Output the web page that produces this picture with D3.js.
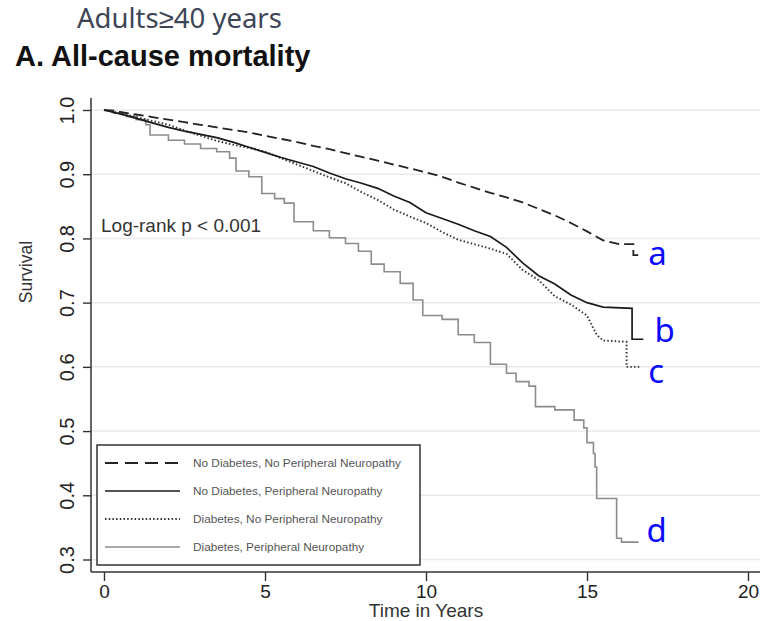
<!DOCTYPE html>
<html>
<head>
<meta charset="utf-8">
<script src="https://cdn.jsdelivr.net/npm/d3@7"></script>
<style>
  body { margin: 0; background: #fff; }
  text { font-family: "Liberation Sans", Arial, sans-serif; }
</style>
</head>
<body>
<div id="chart"></div>
<script>
// series: [time in years, survival]
const noDiabNoPN = [
  [0, 1.0], [0.5, 0.997], [1, 0.993], [1.5, 0.989], [2, 0.985], [2.5, 0.981], [3, 0.977],
  [3.5, 0.973], [4, 0.969], [4.5, 0.965], [5, 0.960], [5.5, 0.955], [6, 0.950], [6.5, 0.944],
  [7, 0.939], [7.5, 0.933], [8, 0.927], [8.5, 0.921], [9, 0.915], [9.5, 0.909], [10, 0.903],
  [10.5, 0.896], [11, 0.887], [11.5, 0.879], [12, 0.871], [12.5, 0.864], [13, 0.856],
  [13.5, 0.846], [14, 0.836], [14.5, 0.824], [15, 0.811], [15.5, 0.797], [16, 0.791],
  [16.44, 0.791], [16.44, 0.774], [16.6, 0.774]
];
const noDiabPN = [
  [0, 1.0], [0.5, 0.994], [1, 0.987], [1.5, 0.980], [2, 0.973], [2.5, 0.967], [3, 0.962],
  [3.5, 0.957], [4, 0.950], [4.5, 0.942], [5, 0.934], [5.5, 0.926], [6, 0.919], [6.5, 0.912],
  [7, 0.902], [7.5, 0.893], [8, 0.886], [8.5, 0.878], [9, 0.866], [9.5, 0.856], [10, 0.840],
  [10.5, 0.831], [11, 0.822], [11.5, 0.812], [12, 0.803], [12.5, 0.786], [13, 0.762],
  [13.5, 0.742], [14, 0.729], [14.5, 0.712], [15, 0.700], [15.5, 0.693], [16.4, 0.691],
  [16.4, 0.643], [16.75, 0.643]
];
const diabNoPN = [
  [0, 1.0], [0.5, 0.995], [1, 0.989], [1.5, 0.983], [2, 0.977], [2.5, 0.968], [3, 0.960],
  [3.5, 0.952], [4, 0.946], [4.5, 0.941], [5, 0.935], [5.5, 0.925], [6, 0.915], [6.5, 0.905],
  [7, 0.895], [7.5, 0.886], [8, 0.872], [8.5, 0.860], [9, 0.845], [9.5, 0.834], [10, 0.824],
  [10.5, 0.810], [11, 0.798], [11.5, 0.791], [12, 0.784], [12.5, 0.776], [13, 0.751],
  [13.5, 0.735], [14, 0.710], [14.5, 0.697], [15, 0.680], [15.3, 0.650], [15.5, 0.641],
  [16.23, 0.639], [16.23, 0.600], [16.65, 0.600]
];
// step points (drawn as step-after)
const diabPN = [
  [0, 1.0], [0.3, 0.995], [0.7, 0.99], [1.0, 0.985], [1.3, 0.977], [1.43, 0.961], [2.0, 0.953],
  [2.5, 0.947], [3.0, 0.940], [3.5, 0.935], [3.9, 0.925], [4.1, 0.905], [4.5, 0.896],
  [4.9, 0.870], [5.3, 0.862], [5.6, 0.855], [5.9, 0.826], [6.5, 0.812], [7.0, 0.801],
  [7.5, 0.792], [7.9, 0.780], [8.3, 0.760], [8.7, 0.748], [9.2, 0.730], [9.6, 0.704],
  [9.9, 0.680], [10.5, 0.674], [11.0, 0.650], [11.5, 0.638], [12.0, 0.604], [12.5, 0.590],
  [12.8, 0.577], [13.2, 0.570], [13.4, 0.538], [14.0, 0.533], [14.6, 0.517], [14.9, 0.505],
  [15.0, 0.482], [15.2, 0.465], [15.25, 0.444], [15.3, 0.395], [15.92, 0.333],
  [16.07, 0.327], [16.6, 0.327]
];

const seriesNames = [
  "No Diabetes, No Peripheral Neuropathy",
  "No Diabetes, Peripheral Neuropathy",
  "Diabetes, No Peripheral Neuropathy",
  "Diabetes, Peripheral Neuropathy"
];
const endLabels = ["a", "b", "c", "d"];
const xTicks = [0, 5, 10, 15, 20];
const yTicks = [0.3, 0.4, 0.5, 0.6, 0.7, 0.8, 0.9, 1.0];

const W = 769, H = 621;
const plot = { left: 91, right: 760, top: 98, bottom: 572 };

const svg = d3.select("#chart").append("svg")
    .attr("width", W).attr("height", H);

const x = d3.scaleLinear().domain([0, 20]).range([104, 748]);
const y = d3.scaleLinear().domain([0.3, 1.0]).range([559.5, 110]);

// headings
svg.append("text")
    .attr("x", 77).attr("y", 28)
    .style("font-family", "'Noto Sans', sans-serif")
    .style("font-size", "27.5px")
    .attr("fill", "#3d4556")
    .text("Adults≥40 years");

svg.append("text")
    .attr("x", 15).attr("y", 66)
    .style("font-size", "29px")
    .style("font-weight", "bold")
    .attr("fill", "#111")
    .text("A. All-cause mortality");

// grid
svg.append("g").selectAll("line")
    .data(yTicks).enter().append("line")
    .attr("x1", plot.left).attr("x2", plot.right)
    .attr("y1", d => y(d)).attr("y2", d => y(d))
    .attr("stroke", "#e9e9e9").attr("stroke-width", 1.5);

// axes
const yAxis = svg.append("g")
    .attr("transform", `translate(${plot.left},0)`)
    .call(d3.axisLeft(y).tickValues(yTicks).tickFormat(d3.format(".1f")).tickSize(8).tickSizeOuter(0));
yAxis.select(".domain").remove();
yAxis.selectAll(".tick line").attr("stroke", "#333").attr("stroke-width", 1.4);
yAxis.selectAll(".tick text")
    .attr("x", null).attr("dy", null)
    .attr("transform", "translate(-17,0) rotate(-90)")
    .attr("text-anchor", "middle")
    .style("font-size", "20px")
    .attr("fill", "#222");

const xAxis = svg.append("g")
    .attr("transform", `translate(0,${plot.bottom})`)
    .call(d3.axisBottom(x).tickValues(xTicks).tickSize(9).tickSizeOuter(0));
xAxis.select(".domain").remove();
xAxis.selectAll(".tick line").attr("stroke", "#333").attr("stroke-width", 1.4);
xAxis.selectAll(".tick text")
    .attr("y", 26).attr("dy", null)
    .style("font-size", "19px")
    .attr("fill", "#222");

svg.append("line")
    .attr("x1", plot.left).attr("x2", plot.left)
    .attr("y1", plot.top).attr("y2", plot.bottom)
    .attr("stroke", "#333").attr("stroke-width", 1.5);
svg.append("line")
    .attr("x1", plot.left).attr("x2", plot.right)
    .attr("y1", plot.bottom).attr("y2", plot.bottom)
    .attr("stroke", "#333").attr("stroke-width", 1.5);

svg.append("text")
    .attr("transform", "translate(32,272) rotate(-90)")
    .attr("text-anchor", "middle")
    .style("font-size", "17.5px")
    .attr("fill", "#333")
    .text("Survival");

svg.append("text")
    .attr("x", x(10)).attr("y", 617)
    .attr("text-anchor", "middle")
    .style("font-size", "19px")
    .attr("fill", "#333")
    .text("Time in Years");

svg.append("text")
    .attr("x", 101).attr("y", 232)
    .style("font-size", "19px")
    .attr("fill", "#333")
    .text("Log-rank p < 0.001");

// curves
const styles = [
  { color: "#222", width: 1.8, dash: "10,5", legendDash: "13,7" },
  { color: "#1a1a1a", width: 1.7, dash: null, legendDash: null },
  { color: "#333", width: 1.9, dash: "1.5,2.2", legendDash: "1.5,2.2" },
  { color: "#8c8c8c", width: 1.6, dash: null, legendDash: null }
];
const series = [noDiabNoPN, noDiabPN, diabNoPN, diabPN];

const lineLin = d3.line().x(d => x(d[0])).y(d => y(d[1]));
const lineStep = d3.line().x(d => x(d[0])).y(d => y(d[1])).curve(d3.curveStepAfter);

// draw d first so black curves sit on top
[3, 2, 1, 0].forEach(i => {
  svg.append("path")
      .datum(series[i])
      .attr("d", i === 3 ? lineStep : lineLin)
      .attr("fill", "none")
      .attr("stroke", styles[i].color)
      .attr("stroke-width", styles[i].width)
      .attr("stroke-dasharray", styles[i].dash);
});

// end labels
const labelPos = [[16.9, 0.774, 265], [17.1, 0.643, 342], [16.9, 0.600, 383], [16.85, 0.327, 542]];
svg.append("g").selectAll("text")
    .data(endLabels).enter().append("text")
    .attr("x", (d, i) => x(labelPos[i][0]))
    .attr("y", (d, i) => labelPos[i][2])
    .style("font-family", "'Noto Sans', sans-serif")
    .style("font-size", "33px")
    .attr("fill", "#0a0aff")
    .text(d => d);

// legend
const legend = svg.append("g");
legend.append("rect")
    .attr("x", 97).attr("y", 445)
    .attr("width", 323).attr("height", 120)
    .attr("fill", "#fff")
    .attr("stroke", "#333").attr("stroke-width", 1.5);

const legendY = [463, 491, 519, 547];
seriesNames.forEach((name, i) => {
  legend.append("line")
      .attr("x1", 105).attr("x2", 180)
      .attr("y1", legendY[i]).attr("y2", legendY[i])
      .attr("stroke", styles[i].color)
      .attr("stroke-width", styles[i].width)
      .attr("stroke-dasharray", styles[i].legendDash);
  legend.append("text")
      .attr("x", 193).attr("y", legendY[i] + 4)
      .style("font-size", "11.8px")
      .attr("fill", "#555")
      .text(name);
});
</script>
</body>
</html>
